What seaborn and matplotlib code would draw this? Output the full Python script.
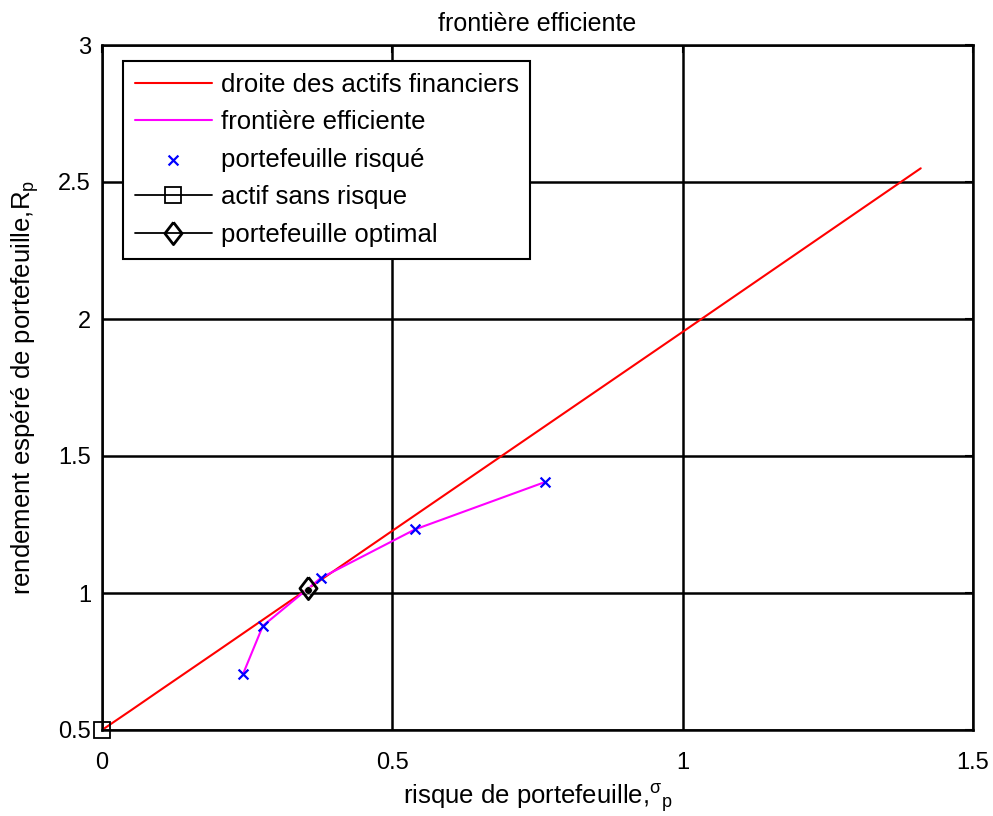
import matplotlib
matplotlib.use('Agg')
import matplotlib.pyplot as plt
import seaborn as sns

# capital market line
cml_risk = [0.0, 0.05, 0.10, 0.20, 0.355, 0.5, 1.0, 1.41]
cml_ret = [0.50, 0.572, 0.645, 0.79, 1.016, 1.227, 1.953, 2.55]

# risky portfolios on the efficient frontier
risk = [0.243, 0.277, 0.377, 0.539, 0.763]
ret = [0.705, 0.880, 1.055, 1.232, 1.405]

rf_risk = [0.0]
rf_ret = [0.5]
opt_risk = [0.355]
opt_ret = [1.020]

sns.set_style('white')
plt.rcParams['font.family'] = ['Liberation Sans', 'DejaVu Sans']
plt.rcParams['mathtext.fontset'] = 'custom'
plt.rcParams['mathtext.rm'] = 'Liberation Sans'
plt.rcParams['mathtext.it'] = 'Liberation Sans'
for k in ['text.color', 'axes.labelcolor', 'xtick.color', 'ytick.color']:
    plt.rcParams[k] = 'black'

# MATLAB style diamond (taller than wide)
diamond = [(0, 1), (0.77, 0), (0, -1), (-0.77, 0), (0, 1)]

fig = plt.figure(figsize=(9.93, 8.16), dpi=100)
ax = fig.add_axes([102 / 993, 1 - 730 / 816, 871 / 993, 685 / 816])

sns.lineplot(x=cml_risk, y=cml_ret, color='red', lw=1.5, ax=ax,
             label='droite des actifs financiers')
sns.lineplot(x=risk, y=ret, color='magenta', lw=1.5, ax=ax,
             label='frontière efficiente')
sns.scatterplot(x=risk, y=ret, marker='x', color='blue', s=50, linewidth=1.6,
                ax=ax, label='portefeuille risqué', zorder=5)
sns.lineplot(x=rf_risk, y=rf_ret, color='black', marker='s', markersize=12,
             markerfacecolor='none', markeredgecolor='black', markeredgewidth=1.3,
             lw=1.3, ax=ax, label='actif sans risque', clip_on=False, zorder=8)
sns.lineplot(x=opt_risk, y=opt_ret, color='black', marker=diamond, markersize=16,
             markerfacecolor='none', markeredgecolor='black', markeredgewidth=2.0,
             lw=1.3, ax=ax, label='portefeuille optimal', zorder=6)
sns.scatterplot(x=opt_risk, y=[1.012], color='black', s=30, ax=ax,
                legend=False, zorder=7)

ax.set_xlim(0, 1.5)
ax.set_ylim(0.5, 3)
ax.set_xticks([0, 0.5, 1, 1.5])
ax.set_xticklabels(['0', '0.5', '1', '1.5'])
ax.set_yticks([0.5, 1, 1.5, 2, 2.5, 3])
ax.set_yticklabels(['0.5', '1', '1.5', '2', '2.5', '3'])
ax.grid(True, color='black', lw=1.8, ls='-')
ax.set_axisbelow(True)
for sp in ax.spines.values():
    sp.set_color('black')
    sp.set_linewidth(1.8)
ax.tick_params(direction='in', length=6, width=1.5, labelsize=17,
               top=True, right=True, pad=8)
ax.tick_params(axis='x', pad=16)

ax.set_title('frontière efficiente', fontsize=18, pad=10)
ax.set_xlabel(r'risque de portefeuille,$^{\sigma}{}_{\rm p}$', fontsize=18.5, labelpad=6)
ax.set_ylabel(r'rendement espéré de portefeuille,R$_{\rm p}$', fontsize=18.5, labelpad=12)

leg = ax.legend(loc='upper left', bbox_to_anchor=(21 / 871, 1 - 16 / 685), fontsize=18.5,
                frameon=True, fancybox=False, handlelength=3.0, borderpad=0.45,
                labelspacing=0.53, handletextpad=0.35, borderaxespad=0)
leg.get_frame().set_edgecolor('black')
leg.get_frame().set_linewidth(1.5)
leg.get_frame().set_alpha(1)

fig.savefig('out.png', dpi=100)
